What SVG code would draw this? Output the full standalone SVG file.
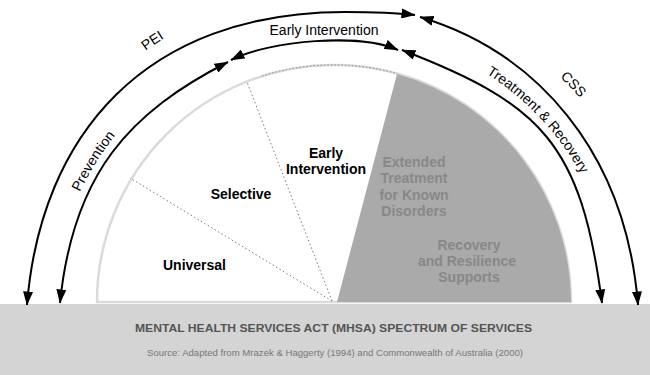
<svg xmlns="http://www.w3.org/2000/svg" width="650" height="375" viewBox="0 0 650 375">
<defs>
<marker id="ah" viewBox="0 0 14 10" refX="13.5" refY="5" markerWidth="14" markerHeight="10" markerUnits="userSpaceOnUse" orient="auto-start-reverse"><path d="M0,0 L14,5 L0,10 z" fill="#000"/></marker>
<path id="tp-pei" d="M74.1,121.8 A322,322 0 0,1 257.2,-0.7"/>
<path id="tp-prev" d="M53.2,301.7 A281,281 0 0,1 202.5,63.7"/>
<path id="tp-css" d="M479.2,20 A326,326 0 0,1 632.7,181.5"/>
<path id="tp-tr" d="M415.3,40.9 A283,283 0 0,1 609.4,246.9"/>
</defs>
<style>
.arc{fill:none;stroke:#000;stroke-width:2;marker-start:url(#ah);marker-end:url(#ah)}
.lbl{font-family:"Liberation Sans",Arial,sans-serif;font-size:14px;fill:#000}
.seg{font-family:"Liberation Sans",Arial,sans-serif;font-size:14px;font-weight:bold;fill:#000;text-anchor:middle}
.gseg{font-family:"Liberation Sans",Arial,sans-serif;font-size:14px;font-weight:bold;fill:#888;text-anchor:middle}
.radius{stroke:#7a7a7a;stroke-width:1;stroke-dasharray:1.5 2.5;fill:none}
</style>
<rect x="0" y="0" width="650" height="375" fill="#fff"/>

<g id="pie">
  <path d="M97,302 A237,237 0 0,1 571,302 Z" fill="#fff" stroke="#dadada" stroke-width="2.5"/>
  <path d="M262,76 A237,237 0 0,1 397,73.5" fill="none" stroke="#8a8a8a" stroke-width="1" stroke-dasharray="1.5 2"/>
</g>

<g id="universal">
  <text class="seg" x="194.5" y="270">Universal</text>
</g>
<g id="selective">
  <line class="radius" x1="332" y1="301" x2="130" y2="178"/>
  <text class="seg" x="241" y="199">Selective</text>
</g>
<g id="early-intervention">
  <line class="radius" x1="332" y1="301" x2="247" y2="82"/>
  <text class="seg" x="326" y="158">Early</text>
  <text class="seg" x="326" y="174">Intervention</text>
</g>
<g id="treatment">
  <path d="M337,302 L397,74 A237,237 0 0,1 571,302 Z" fill="#aaaaaa"/>
  <text class="gseg" x="414" y="167">Extended</text>
  <text class="gseg" x="414" y="183">Treatment</text>
  <text class="gseg" x="414" y="200">for Known</text>
  <text class="gseg" x="414" y="216">Disorders</text>
  <text class="gseg" x="469" y="250">Recovery</text>
  <text class="gseg" x="467" y="266">and Resilience</text>
  <text class="gseg" x="469" y="282">Supports</text>
</g>

<g id="band">
  <rect x="0" y="304" width="650" height="71" fill="#d4d4d4"/>
  <text x="333.5" y="332" text-anchor="middle" textLength="397" lengthAdjust="spacingAndGlyphs" font-family="'Liberation Sans',Arial,sans-serif" font-size="11" font-weight="bold" fill="#555">MENTAL HEALTH SERVICES ACT (MHSA) SPECTRUM OF SERVICES</text>
  <text x="335" y="356" text-anchor="middle" textLength="376" lengthAdjust="spacingAndGlyphs" font-family="'Liberation Sans',Arial,sans-serif" font-size="8.5" fill="#777">Source: Adapted from Mrazek &amp; Haggerty (1994) and Commonwealth of Australia (2000)</text>
</g>

<g id="connectors">
  <path id="c-pei" class="arc" d="M27,305 C40.6,135 145,12 345,12 C375,12 398,13 415,15"/>
  <path id="c-css" class="arc" d="M420,17 C535,51.5 625.6,150 638,305"/>
  <path id="c-prev" class="arc" d="M60,303 C73,173 130.1,112 228,62"/>
  <path id="c-ei" class="arc" d="M231,60 C271,40 360,33 398,50"/>
  <path id="c-tr" class="arc" d="M402,50 C541.5,104 581.2,143 602,303"/>
  <text class="lbl"><textPath href="#tp-pei" startOffset="50%" text-anchor="middle">PEI</textPath></text>
  <text class="lbl"><textPath href="#tp-prev" startOffset="50%" text-anchor="middle">Prevention</textPath></text>
  <text class="lbl"><textPath href="#tp-css" startOffset="50%" text-anchor="middle">CSS</textPath></text>
  <text class="lbl"><textPath href="#tp-tr" startOffset="50%" text-anchor="middle">Treatment &amp; Recovery</textPath></text>
  <text class="lbl" x="324" y="35" text-anchor="middle">Early Intervention</text>
</g>
</svg>
